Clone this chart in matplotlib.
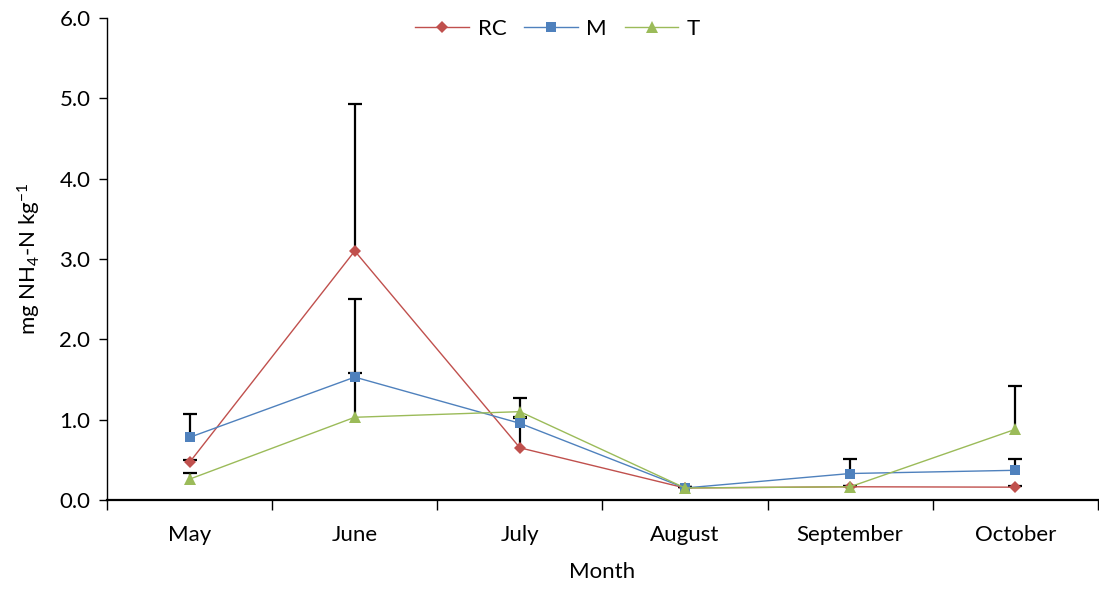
import matplotlib.pyplot as plt
import numpy as np

plt.rcParams['font.family'] = ['Lato', 'DejaVu Sans']
plt.rcParams['mathtext.default'] = 'regular'

months = ["May", "June", "July", "August", "September", "October"]

# mean NH4-N per treatment
rc = [0.47, 3.10, 0.65, 0.15, 0.165, 0.16]
m = [0.78, 1.53, 0.955, 0.15, 0.33, 0.37]
t = [0.26, 1.03, 1.10, 0.15, 0.165, 0.88]

# upper error (SD) per treatment
rc_err = [0.03, 1.83, 0.38, 0.01, 0.01, 0.01]
m_err = [0.29, 0.97, 0.07, 0.01, 0.18, 0.14]
t_err = [0.08, 0.55, 0.17, 0.01, 0.01, 0.54]

x = np.arange(len(months))

fig = plt.figure(figsize=(10.99, 5.9), dpi=100)
ax = fig.add_axes([0.0974, 0.1525, 0.9016, 0.817])

series = [
    ("RC", rc, rc_err, "#C0504D", "D", 6),
    ("M", m, m_err, "#4F81BD", "s", 7.5),
    ("T", t, t_err, "#9BBB59", "^", 8),
]

# one-sided error bars: hide the lower caps
for name, vals, err, color, marker, ms in series:
    _, caps, _ = ax.errorbar(x, vals, yerr=[np.zeros(len(err)), err], fmt="none",
                             ecolor="black", elinewidth=1.6, capsize=5,
                             capthick=1.6, zorder=2)
    caps[0].set_visible(False)

for name, vals, err, color, marker, ms in series:
    ax.plot(x, vals, color=color, lw=1, marker=marker, markersize=ms,
            markeredgewidth=0, label=name, zorder=3)

ax.set_ylim(0, 6)
ax.set_yticks(np.arange(0, 6.1, 1))
ax.set_yticklabels([f"{v:.1f}" for v in np.arange(0, 6.1, 1)], fontsize=16)
ax.tick_params(axis="y", direction="out", length=6, width=1, pad=6)

ax.set_xlim(-0.5, len(months) - 0.5)
ax.set_xticks(np.arange(-0.5, len(months), 1))
ax.set_xticklabels([])
ax.set_xticks(x, minor=True)
ax.set_xticklabels(months, minor=True, fontsize=16)
ax.tick_params(axis="x", which="major", direction="out", length=7, width=1)
ax.tick_params(axis="x", which="minor", length=0, pad=18)

for side in ["top", "right"]:
    ax.spines[side].set_visible(False)
ax.spines["left"].set_linewidth(1)
ax.spines["bottom"].set_linewidth(1.6)

ax.set_xlabel("Month", fontsize=16, labelpad=12)
ax.set_ylabel(r"mg NH$_4$-N kg$^{-1}$", fontsize=16, labelpad=12)

ax.legend(loc="upper center", bbox_to_anchor=(0.455, 1.04), ncol=3, frameon=False,
          fontsize=16, handlelength=2.4, columnspacing=0.8, handletextpad=0.4)

fig.savefig("out.png", dpi=100)
